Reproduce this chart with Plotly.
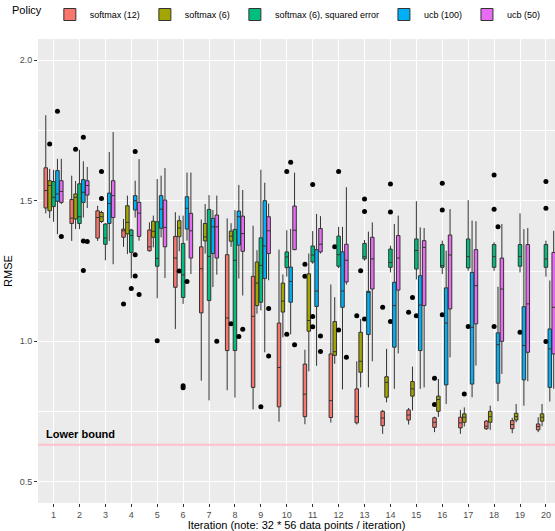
import plotly.graph_objects as go

iterations = list(range(1, 21))
policies = ["softmax (12)", "softmax (6)", "softmax (6), squared error", "ucb (100)", "ucb (50)"]
colors = ["#F8766D", "#A3A500", "#00BF7D", "#00B0F6", "#E76BF3"]
tick_labels = [str(i) for i in iterations]
lower_bound = 0.632

# softmax (12)
sm12_q1 = [1.474, 1.419, 1.367, 1.370, 1.322, 1.192, 1.101, 0.967, 0.836, 0.767, 0.732, 0.729, 0.710, 0.700, 0.720, 0.694, 0.692, 0.689, 0.689, 0.685]
sm12_med = [1.536, 1.438, 1.440, 1.393, 1.336, 1.296, 1.258, 1.083, 1.089, 0.907, 0.812, 0.789, 0.732, 0.727, 0.738, 0.712, 0.710, 0.698, 0.704, 0.697]
sm12_q3 = [1.617, 1.504, 1.464, 1.399, 1.396, 1.373, 1.336, 1.308, 1.231, 1.065, 0.919, 0.955, 0.831, 0.751, 0.756, 0.728, 0.730, 0.716, 0.718, 0.706]
sm12_lo = [1.455, 1.357, 1.357, 1.336, 1.319, 1.044, 0.860, 0.826, 0.758, 0.714, 0.705, 0.711, 0.704, 0.671, 0.704, 0.677, 0.671, 0.685, 0.673, 0.677]
sm12_hi = [1.804, 1.589, 1.482, 1.435, 1.423, 1.459, 1.433, 1.437, 1.411, 1.326, 0.970, 1.202, 0.929, 0.756, 0.763, 0.732, 0.756, 0.720, 0.728, 0.730]
sm12_out = [[], [], [], [1.133], [], [], [], [], [], [], [1.274, 1.231], [], [1.091], [1.121], [1.103], [0.869, 0.775], [], [], [], []]

# softmax (6)
sm6_q1 = [1.464, 1.435, 1.426, 1.382, 1.370, 1.372, 1.357, 1.356, 1.127, 1.104, 1.036, 0.950, 0.890, 0.801, 0.805, 0.751, 0.712, 0.712, 0.720, 0.716]
sm6_med = [1.554, 1.512, 1.443, 1.423, 1.391, 1.403, 1.371, 1.374, 1.207, 1.143, 1.074, 0.963, 0.929, 0.854, 0.831, 0.793, 0.730, 0.732, 0.732, 0.730]
sm6_q3 = [1.571, 1.524, 1.458, 1.482, 1.427, 1.429, 1.419, 1.392, 1.282, 1.207, 1.240, 1.070, 1.032, 0.874, 0.857, 0.805, 0.742, 0.751, 0.744, 0.742]
sm6_lo = [1.438, 1.399, 1.421, 1.310, 1.334, 1.320, 1.312, 1.336, 1.098, 1.014, 0.893, 0.920, 0.836, 0.783, 0.754, 0.731, 0.697, 0.685, 0.712, 0.698]
sm6_hi = [1.613, 1.570, 1.464, 1.518, 1.447, 1.447, 1.488, 1.420, 1.324, 1.238, 1.312, 1.157, 1.079, 0.973, 0.910, 0.866, 0.765, 0.771, 0.777, 0.777]
sm6_out = [[1.702], [1.683], [1.604, 1.508], [], [], [1.250], [], [1.062], [], [], [], [1.336], [1.251], [], [1.156], [], [0.813], [], [], []]

# softmax (6), squared error
sq_q1 = [1.479, 1.419, 1.345, 1.316, 1.267, 1.156, 1.145, 0.967, 1.139, 1.262, 1.282, 1.267, 1.293, 1.263, 1.257, 1.263, 1.261, 1.263, 1.267, 1.263]
sq_med = [1.512, 1.443, 1.367, 1.376, 1.295, 1.236, 1.302, 1.288, 1.270, 1.300, 1.307, 1.308, 1.301, 1.280, 1.323, 1.269, 1.301, 1.301, 1.302, 1.293]
sq_q3 = [1.568, 1.560, 1.417, 1.396, 1.425, 1.348, 1.469, 1.398, 1.368, 1.318, 1.339, 1.374, 1.348, 1.328, 1.364, 1.344, 1.364, 1.344, 1.344, 1.344]
sq_lo = [1.425, 1.399, 1.288, 1.224, 1.153, 1.133, 0.790, 0.800, 1.110, 1.230, 1.276, 1.260, 1.287, 1.245, 1.220, 1.239, 1.251, 1.251, 1.245, 1.230]
sq_hi = [1.610, 1.681, 1.420, 1.400, 1.577, 1.447, 1.520, 1.467, 1.610, 1.395, 1.392, 1.407, 1.360, 1.340, 1.498, 1.358, 1.502, 1.352, 1.455, 1.358]
sq_out = [[], [], [], [1.188], [1.002], [0.842, 0.835], [], [], [0.767], [1.604, 1.025], [1.558, 1.088, 1.052], [1.604, 1.040],
          [1.506, 1.462, 1.079], [1.559, 1.460, 1.070], [1.091], [1.562, 1.467, 1.094], [1.053], [1.591, 1.470, 1.053], [1.032], [1.568, 1.473, 0.999]]

# ucb (100)
ucb100_q1 = [1.498, 1.494, 1.419, 1.467, 1.402, 1.399, 1.312, 1.342, 1.223, 1.139, 1.124, 1.121, 1.024, 0.979, 0.967, 0.845, 0.848, 0.851, 0.863, 0.836]
ucb100_med = [1.524, 1.530, 1.490, 1.500, 1.470, 1.473, 1.407, 1.443, 1.339, 1.213, 1.179, 1.179, 1.174, 1.127, 1.129, 1.065, 1.050, 0.988, 0.985, 0.973]
ucb100_q3 = [1.607, 1.575, 1.527, 1.518, 1.518, 1.514, 1.437, 1.463, 1.500, 1.264, 1.326, 1.318, 1.178, 1.210, 1.233, 1.190, 1.245, 1.030, 1.123, 1.044]
ucb100_lo = [1.381, 1.440, 1.357, 1.440, 1.370, 1.358, 1.193, 1.223, 0.961, 1.025, 0.913, 0.829, 0.836, 0.831, 0.831, 0.777, 0.801, 0.787, 0.771, 0.786]
ucb100_hi = [1.649, 1.640, 1.673, 1.571, 1.589, 1.600, 1.467, 1.556, 1.564, 1.400, 1.453, 1.407, 1.390, 1.417, 1.405, 1.322, 1.429, 1.194, 1.399, 1.216]
ucb100_out = [[1.818], [1.726, 1.357, 1.252], [], [1.675, 1.308, 1.232], [], [1.213], [], [1.017], [], [1.637], [], [], [], [], [], [], [], [1.407], [], []]

# ucb (50)
ucb50_q1 = [1.494, 1.520, 1.440, 1.373, 1.336, 1.296, 1.296, 1.320, 1.312, 1.326, 1.318, 1.211, 1.186, 1.182, 1.127, 1.115, 1.062, 1.000, 0.961, 0.955]
ucb50_med = [1.533, 1.554, 1.518, 1.456, 1.405, 1.393, 1.407, 1.383, 1.393, 1.395, 1.345, 1.288, 1.293, 1.296, 1.334, 1.307, 1.198, 1.186, 1.133, 1.121]
ucb50_q3 = [1.571, 1.571, 1.571, 1.494, 1.502, 1.455, 1.449, 1.445, 1.443, 1.481, 1.401, 1.345, 1.370, 1.376, 1.358, 1.378, 1.326, 1.296, 1.344, 1.316]
ucb50_lo = [1.488, 1.474, 1.274, 1.358, 1.225, 1.239, 1.237, 1.163, 1.217, 1.324, 1.312, 1.202, 0.929, 0.957, 0.836, 0.943, 0.914, 0.884, 0.858, 0.831]
ucb50_hi = [1.649, 1.620, 1.744, 1.648, 1.616, 1.600, 1.518, 1.538, 1.490, 1.600, 1.445, 1.548, 1.423, 1.447, 1.403, 1.470, 1.427, 1.417, 1.403, 1.393]
ucb50_out = [[1.373], [1.355], [], [1.166], [], [], [1.000], [1.043], [1.117, 0.948], [0.988], [1.019, 0.964], [0.943], [], [], [], [], [], [], [], []]

series = [
    (sm12_q1, sm12_med, sm12_q3, sm12_lo, sm12_hi, sm12_out),
    (sm6_q1, sm6_med, sm6_q3, sm6_lo, sm6_hi, sm6_out),
    (sq_q1, sq_med, sq_q3, sq_lo, sq_hi, sq_out),
    (ucb100_q1, ucb100_med, ucb100_q3, ucb100_lo, ucb100_hi, ucb100_out),
    (ucb50_q1, ucb50_med, ucb50_q3, ucb50_lo, ucb50_hi, ucb50_out),
]

FONT = "Liberation Sans, Arial, sans-serif"

fig = go.Figure()
for name, col, (q1, med, q3, lo, hi, out) in zip(policies, colors, series):
    # an empty sample row hides the whole trace, so empty rows get a blank placeholder
    samples = [o if o else [None] for o in out]
    fig.add_trace(go.Box(
        name=name, x=iterations, y=samples,
        q1=q1, median=med, q3=q3, lowerfence=lo, upperfence=hi,
        fillcolor=col, line=dict(color="#333333", width=1),
        whiskerwidth=0, boxpoints="outliers", jitter=0, pointpos=0,
        marker=dict(color="black", size=5, line=dict(width=0)),
    ))

fig.add_hline(y=lower_bound, line=dict(color="pink", width=2), layer="above")
fig.add_annotation(x=0.64, y=0.672, text="<b>Lower bound</b>", showarrow=False,
                   xanchor="left", yanchor="middle", font=dict(family=FONT, size=11, color="black"))

fig.update_layout(
    width=555, height=531,
    margin=dict(l=38, r=0, t=39, b=28),
    paper_bgcolor="white", plot_bgcolor="#EBEBEB",
    boxmode="group", boxgap=0.25, boxgroupgap=0.1,
    font=dict(family=FONT, color="#4D4D4D"),
    showlegend=True,
    legend=dict(orientation="h", xref="container", yref="container", x=0.5, xanchor="center",
                y=1.0, yanchor="top", font=dict(size=9, color="black"),
                title=dict(text="Policy", side="left", font=dict(size=11, color="black")),
                itemwidth=30, tracegroupgap=0),
    xaxis=dict(range=[0.4, 20.35], tickvals=iterations, ticktext=tick_labels,
               showgrid=True, gridcolor="white", gridwidth=1, zeroline=False,
               ticks="outside", ticklen=3, tickcolor="#333333", tickfont=dict(size=9, color="#4D4D4D"),
               title=dict(text="Iteration (note: 32 * 56 data points / iteration)",
                          font=dict(size=11, color="black"), standoff=2)),
    yaxis=dict(range=[0.425, 2.075], tickvals=[0.5, 1.0, 1.5, 2.0], ticktext=["0.5", "1.0", "1.5", "2.0"],
               showgrid=True, gridcolor="white", gridwidth=1, zeroline=False,
               ticks="outside", ticklen=3, tickcolor="#333333", tickfont=dict(size=9, color="#4D4D4D"),
               minor=dict(tickvals=[0.75, 1.25, 1.75], showgrid=True, gridcolor="white", gridwidth=0.5, ticks=""),
               title=dict(text="RMSE", font=dict(size=11, color="black"), standoff=4)),
)

fig.write_html("out.html")
